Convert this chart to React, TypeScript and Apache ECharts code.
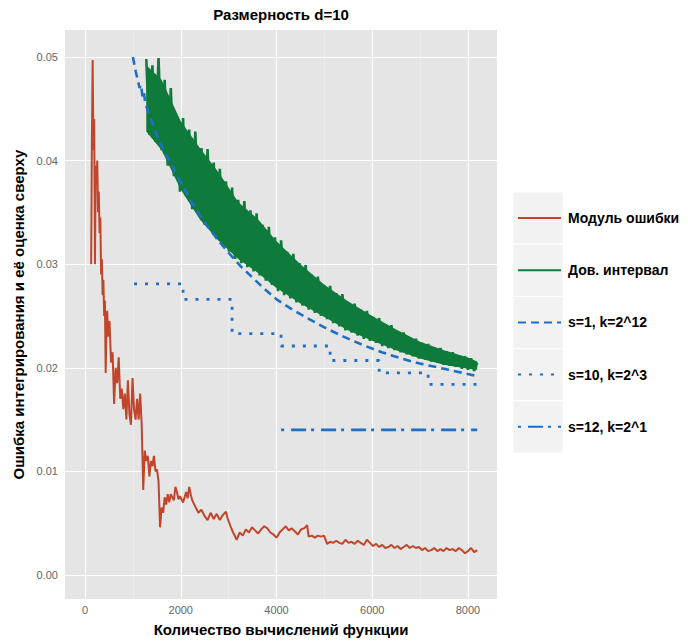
import React, { useEffect, useRef } from "react";
import * as echarts from "echarts";

const FONT = "'Liberation Sans', Arial, sans-serif";

// axis ticks / grid breaks
const xMajor = [0, 2000, 4000, 6000, 8000];
const xMinor = [1000, 3000, 5000, 7000];
const yMajor = [0, 0.01, 0.02, 0.03, 0.04, 0.05];
const yMinor = [0.005, 0.015, 0.025, 0.035, 0.045];

// Модуль ошибки: [n, error]
const errorSeries = [
  [128, 0.03], [144, 0.042], [160, 0.0497], [176, 0.041], [192, 0.044], [208, 0.03], [224, 0.0395],
  [240, 0.038], [256, 0.04], [272, 0.035], [288, 0.037], [304, 0.033], [320, 0.0345], [336, 0.029],
  [352, 0.0305], [368, 0.027], [384, 0.0285], [400, 0.025], [416, 0.0265], [432, 0.0195], [448, 0.024],
  [464, 0.0255], [480, 0.023], [512, 0.0245], [544, 0.0205], [576, 0.0215], [608, 0.0165], [640, 0.02],
  [672, 0.0185], [704, 0.021], [736, 0.017], [768, 0.018], [800, 0.016], [832, 0.0175], [864, 0.015],
  [896, 0.0188], [928, 0.0155], [960, 0.0145], [992, 0.019], [1024, 0.016], [1056, 0.015], [1088, 0.017],
  [1120, 0.015], [1152, 0.0175], [1184, 0.0145], [1216, 0.0082], [1248, 0.012], [1280, 0.011],
  [1312, 0.0115], [1344, 0.0095], [1376, 0.011], [1408, 0.0105], [1440, 0.0115], [1472, 0.01],
  [1504, 0.0102], [1536, 0.009], [1568, 0.0046], [1600, 0.0065], [1632, 0.006], [1664, 0.0075],
  [1696, 0.0068], [1728, 0.0078], [1760, 0.007], [1792, 0.0078], [1856, 0.0072], [1888, 0.0085],
  [1920, 0.008], [1952, 0.0073], [1984, 0.0076], [2048, 0.007], [2112, 0.008], [2144, 0.0074],
  [2176, 0.0085], [2208, 0.0078], [2240, 0.0072], [2304, 0.0066], [2368, 0.006], [2432, 0.0063],
  [2496, 0.0057], [2560, 0.0053], [2624, 0.006], [2688, 0.0054], [2752, 0.0059], [2816, 0.0053],
  [2880, 0.0058], [2944, 0.0061], [2976, 0.0055], [3040, 0.0047], [3104, 0.004], [3168, 0.0034],
  [3232, 0.0041], [3296, 0.0038], [3360, 0.0044], [3424, 0.0041], [3488, 0.0046], [3552, 0.0043],
  [3616, 0.004], [3680, 0.0044], [3744, 0.0047], [3808, 0.0045], [3872, 0.0041], [3936, 0.0039],
  [4000, 0.0036], [4064, 0.0041], [4128, 0.0044], [4192, 0.0047], [4256, 0.0043], [4320, 0.0045],
  [4384, 0.0042], [4448, 0.0039], [4512, 0.0044], [4576, 0.0045], [4640, 0.0048], [4672, 0.0037],
  [4736, 0.0038], [4800, 0.0036], [4864, 0.0038], [4928, 0.0037], [4992, 0.0038], [5056, 0.003],
  [5120, 0.0032], [5184, 0.0031], [5248, 0.0033], [5312, 0.0031], [5376, 0.003], [5440, 0.0034],
  [5504, 0.0031], [5568, 0.0032], [5632, 0.003], [5696, 0.0033], [5760, 0.0031], [5824, 0.0029],
  [5888, 0.0034], [5952, 0.0031], [6016, 0.0028], [6080, 0.003], [6144, 0.0027], [6208, 0.0029],
  [6272, 0.0026], [6336, 0.0027], [6400, 0.0029], [6464, 0.0026], [6528, 0.0028], [6592, 0.0025],
  [6656, 0.0027], [6720, 0.0029], [6784, 0.0026], [6848, 0.0028], [6912, 0.0026], [6976, 0.0027],
  [7040, 0.0024], [7104, 0.0026], [7168, 0.0023], [7232, 0.0024], [7296, 0.0026], [7360, 0.0023],
  [7424, 0.0025], [7488, 0.0023], [7552, 0.0026], [7616, 0.0024], [7680, 0.0025], [7744, 0.0023],
  [7808, 0.0026], [7872, 0.0024], [7936, 0.0021], [8000, 0.0023], [8064, 0.0026], [8128, 0.0022],
  [8192, 0.0024],
];

// Дов. интервал: jagged trace
const ciN = [
  1280, 1344, 1408, 1472, 1536, 1600, 1664, 1728, 1792, 1856, 1920, 1984, 2048, 2112, 2176, 2240,
  2304, 2368, 2432, 2496, 2560, 2624, 2688, 2752, 2816, 2880, 2944, 3008, 3072, 3136, 3200, 3264,
  3328, 3392, 3456, 3520, 3584, 3648, 3712, 3776, 3840, 3904, 3968, 4032, 4096, 4160, 4224, 4288,
  4352, 4416, 4480, 4544, 4608, 4672, 4736, 4800, 4864, 4928, 4992, 5056, 5120, 5184, 5248, 5312,
  5376, 5440, 5504, 5568, 5632, 5696, 5760, 5824, 5888, 5952, 6016, 6080, 6144, 6208, 6272, 6336,
  6400, 6464, 6528, 6592, 6656, 6720, 6784, 6848, 6912, 6976, 7040, 7104, 7168, 7232, 7296, 7360,
  7424, 7488, 7552, 7616, 7680, 7744, 7808, 7872, 7936, 8000, 8064, 8128, 8192,
];
const ciVal = [
  0.0498, 0.0425, 0.0492, 0.0418, 0.0499, 0.041, 0.0478, 0.0395, 0.047, 0.0385, 0.044, 0.037,
  0.0441, 0.0365, 0.043, 0.0353, 0.0428, 0.035, 0.0412, 0.0338, 0.0411, 0.0335, 0.0398, 0.0324,
  0.0392, 0.0318, 0.038, 0.0312, 0.0374, 0.0305, 0.0362, 0.0301, 0.0361, 0.0297, 0.0352, 0.0293,
  0.0349, 0.0289, 0.0338, 0.0284, 0.0336, 0.028, 0.0326, 0.0274, 0.0323, 0.027, 0.0312, 0.0267,
  0.031, 0.0263, 0.0301, 0.026, 0.0299, 0.0256, 0.029, 0.0253, 0.0288, 0.025, 0.028, 0.0247,
  0.0279, 0.0243, 0.0272, 0.024, 0.0271, 0.0236, 0.0263, 0.0234, 0.0262, 0.0231, 0.0256, 0.0228,
  0.0255, 0.0226, 0.0249, 0.0224, 0.0248, 0.0221, 0.0242, 0.0219, 0.0241, 0.0217, 0.0235, 0.0215,
  0.0234, 0.0213, 0.0229, 0.0211, 0.0228, 0.0209, 0.0224, 0.0208, 0.0223, 0.0206, 0.0219, 0.0205,
  0.0219, 0.0203, 0.0216, 0.0202, 0.0215, 0.0201, 0.0212, 0.0199, 0.0211, 0.0198, 0.0209, 0.0197,
  0.0205,
];
// Дов. интервал: solid core of the band
const ciBandN = [1280, 1600, 2000, 2400, 2800, 3200, 3600, 4000, 4500, 5000, 5500, 6000, 6500, 7000, 7500, 8000, 8192];
const ciBandLo = [0.0428, 0.041, 0.0372, 0.0343, 0.0322, 0.0305, 0.0292, 0.0277, 0.0262, 0.0249, 0.0236, 0.0226, 0.0217, 0.0209, 0.0203, 0.0199, 0.0198];
const ciBandHi = [0.0492, 0.0478, 0.0438, 0.0412, 0.0388, 0.036, 0.0344, 0.0322, 0.03, 0.028, 0.0264, 0.025, 0.0237, 0.0225, 0.0217, 0.021, 0.0206];

// s=1, k=2^12
const s1Series = [
  [1000, 0.05], [1060, 0.0486], [1100, 0.0478], [1140, 0.047], [1170, 0.0473], [1200, 0.0462],
  [1230, 0.0466], [1260, 0.0455], [1300, 0.045], [1400, 0.0437], [1500, 0.0425], [1600, 0.0414],
  [1700, 0.0405], [1800, 0.0397], [1900, 0.0388], [2000, 0.0379], [2200, 0.0362], [2400, 0.0347],
  [2600, 0.0334], [2800, 0.0322], [3000, 0.0311], [3250, 0.0298], [3500, 0.0287], [3750, 0.0276],
  [4000, 0.0266], [4300, 0.0257], [4600, 0.0249], [5000, 0.0239], [5400, 0.023], [5800, 0.0222],
  [6200, 0.0215], [6600, 0.0209], [7000, 0.0204], [7400, 0.02], [7800, 0.0196], [8192, 0.0192],
];

// s=10, k=2^3 (step function)
const s10N = [1024, 2048, 3072, 4096, 5120, 6144, 7168, 8192];
const s10Val = [0.0281, 0.0266, 0.0233, 0.0221, 0.0207, 0.0195, 0.0184, 0.0184];

// s=12, k=2^1
const s12N = [4096, 8192];
const s12Val = [0.014, 0.014];

const legendNames = ["Модуль ошибки", "Дов. интервал", "s=1, k=2^12", "s=10, k=2^3", "s=12, k=2^1"];

const BLUE = "#1f6fc4";
const GREEN = "#0f7b3b";
const RED = "#c0452b";

export default function App() {
  const ref = useRef<HTMLDivElement>(null);
  useEffect(() => {
    const chart = echarts.init(ref.current as HTMLDivElement, null, { renderer: "svg" });
    const gridLines = [
      ...xMinor.map((v) => ({ xAxis: v, lineStyle: { color: "#f2f2f2", width: 0.6, type: "solid" } })),
      ...yMinor.map((v) => ({ yAxis: v, lineStyle: { color: "#f2f2f2", width: 0.6, type: "solid" } })),
      ...xMajor.map((v) => ({ xAxis: v, lineStyle: { color: "#ffffff", width: 1.1, type: "solid" } })),
      ...yMajor.map((v) => ({ yAxis: v, lineStyle: { color: "#ffffff", width: 1.1, type: "solid" } })),
    ];
    const keyRects = legendNames.map((_, i) => ({
      type: "rect",
      shape: { x: 513, y: 192 + i * 52.2, width: 50, height: 52.2 },
      style: { fill: "#f2f2f2", stroke: "#ffffff", lineWidth: 1 },
      z: 1,
      silent: true,
    }));
    chart.setOption({
      animation: false,
      grid: {
        left: 65,
        right: 191,
        top: 30,
        bottom: 45,
        show: true,
        backgroundColor: "#e5e5e5",
        borderWidth: 0,
        containLabel: false,
        outerBoundsMode: "none",
      },
      graphic: [
        {
          type: "text",
          x: 281,
          y: 14,
          style: {
            text: "Размерность d=10",
            align: "center",
            verticalAlign: "middle",
            fontFamily: FONT,
            fontSize: 15,
            fontWeight: "bold",
            fill: "#000",
          },
        },
        ...keyRects,
      ],
      legend: {
        orient: "vertical",
        left: 517,
        top: 211,
        padding: 0,
        itemWidth: 43,
        itemHeight: 14,
        itemGap: 38.2,
        data: legendNames,
        selectedMode: false,
        itemStyle: { opacity: 0 },
        textStyle: { fontFamily: FONT, fontSize: 14, fontWeight: "bold", color: "#000", padding: [0, 0, 0, 2] },
      },
      xAxis: {
        type: "value",
        min: -418,
        max: 8606,
        axisLine: { show: false },
        splitLine: { show: false },
        axisTick: { show: true, length: 4, lineStyle: { color: "#7f7f7f" }, customValues: xMajor },
        axisLabel: {
          customValues: xMajor,
          color: "#666",
          fontSize: 11,
          margin: 5,
          fontFamily: FONT,
          formatter: (v: number) => String(v),
        },
        name: "Количество вычислений функции",
        nameLocation: "middle",
        nameGap: 23,
        nameTextStyle: { fontSize: 15, fontWeight: "bold", color: "#000", fontFamily: FONT },
      },
      yAxis: {
        type: "value",
        min: -0.00232,
        max: 0.0526,
        axisLine: { show: false },
        splitLine: { show: false },
        axisTick: { show: true, length: 4, lineStyle: { color: "#7f7f7f" }, customValues: yMajor },
        axisLabel: {
          customValues: yMajor,
          color: "#666",
          fontSize: 11,
          margin: 7,
          fontFamily: FONT,
          formatter: (v: number) => v.toFixed(2),
        },
        name: "Ошибка интегрирования и её оценка сверху",
        nameLocation: "middle",
        nameGap: 35,
        nameTextStyle: { fontSize: 15, fontWeight: "bold", color: "#000", fontFamily: FONT },
      },
      series: [
        {
          name: "__grid",
          type: "line",
          data: [],
          z: 1,
          markLine: {
            z: 1,
            silent: true,
            symbol: ["none", "none"],
            label: { show: false },
            animation: false,
            data: gridLines,
          },
        },
        {
          name: legendNames[0],
          type: "line",
          data: errorSeries,
          symbol: "none",
          z: 3,
          lineStyle: { color: RED, width: 2 },
          itemStyle: { color: RED },
        },
        {
          name: "__band",
          type: "custom",
          data: [[4000, 0.03]],
          z: 4,
          silent: true,
          renderItem: (_params: any, api: any) => {
            const pts: number[][] = [];
            for (let i = 0; i < ciBandN.length; i++) pts.push(api.coord([ciBandN[i], ciBandHi[i]]));
            for (let i = ciBandN.length - 1; i >= 0; i--) pts.push(api.coord([ciBandN[i], ciBandLo[i]]));
            return { type: "polygon", shape: { points: pts }, style: { fill: GREEN } };
          },
        },
        {
          name: legendNames[1],
          type: "line",
          data: ciN.map((n, i) => [n, ciVal[i]]),
          symbol: "none",
          z: 4,
          lineStyle: { color: GREEN, width: 2.6 },
          itemStyle: { color: GREEN },
        },
        {
          name: legendNames[2],
          type: "line",
          data: s1Series,
          symbol: "none",
          z: 5,
          lineStyle: { color: BLUE, width: 2.6, type: [8, 5] },
          itemStyle: { color: BLUE },
        },
        {
          name: legendNames[3],
          type: "line",
          step: "end",
          data: s10N.map((n, i) => [n, s10Val[i]]),
          symbol: "none",
          z: 5,
          lineStyle: { color: BLUE, width: 2.8, type: [3, 8] },
          itemStyle: { color: BLUE },
        },
        {
          name: legendNames[4],
          type: "line",
          data: s12N.map((n, i) => [n, s12Val[i]]),
          symbol: "none",
          z: 5,
          lineStyle: { color: BLUE, width: 2.8, type: [3, 7, 15, 5] },
          itemStyle: { color: BLUE },
        },
      ],
    });
    return () => chart.dispose();
  }, []);
  return <div ref={ref} style={{ position: "absolute", left: 0, top: 0, width: 688, height: 644 }} />;
}
